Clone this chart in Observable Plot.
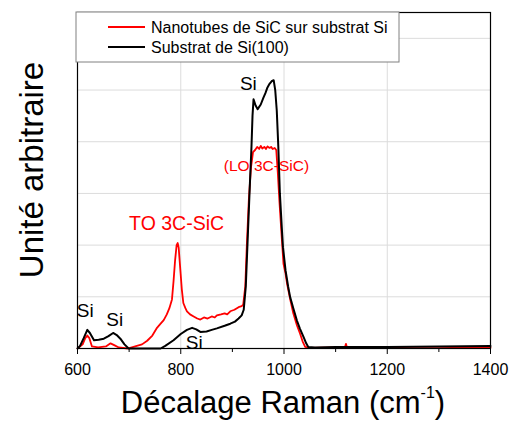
<!DOCTYPE html>
<html><head><meta charset="utf-8">
<script src="https://cdn.jsdelivr.net/npm/d3@7"></script>
<script src="https://cdn.jsdelivr.net/npm/@observablehq/plot@0.6"></script>
<style>body{margin:0;background:#fff} svg{display:block}</style>
</head><body><div id="chart"></div>
<script>
const seriesNames = ["Nanotubes de SiC sur substrat Si", "Substrat de Si(100)"];
const seriesColors = ["#ff0000", "#000000"];

const redX = [600,610,615,619,623,628,640,655,664,672,680,697,715,725,735,745,754,761,767,773,778,783,786,789,792,794,796,799,802,805,809,812,818,825,832,838,845,852,860,866,870,878,885,890,896,904,912,918,921,925,928,932,936,940,944,948,952,955,958,962,965,968,972,975,978,982,985,988,991,996,999,1003,1006,1012,1018,1025,1031,1036,1041,1050,1100,1118,1120,1122,1160,1200,1250,1300,1350,1400];
const redY = [0,0.08,0.2,0.25,0.2,0.04,0.02,0.04,0.1,0.06,0.02,0,0.05,0.08,0.15,0.25,0.4,0.48,0.55,0.66,0.78,0.95,1.3,1.7,2.0,2.04,1.95,1.55,1.15,0.88,0.78,0.72,0.66,0.62,0.58,0.56,0.6,0.58,0.62,0.6,0.64,0.66,0.68,0.66,0.72,0.75,0.8,0.82,0.85,1.2,2.0,2.9,3.5,3.8,3.84,3.9,3.86,3.92,3.87,3.9,3.86,3.91,3.88,3.9,3.86,3.88,3.84,3.4,2.87,2.09,1.64,1.45,1.25,0.95,0.68,0.45,0.29,0.14,0.03,0.01,0.02,0.02,0.09,0.02,0.02,0.02,0.03,0.03,0.02,0.02];

const blackX = [600,605,612,619,624,632,641,651,660,669,676,683,691,699,720,761,770,786,800,812,822,830,838,850,860,870,885,896,905,912,918,922,926,930,934,937,939,941,945,949,955,960,964,968,972,976,980,983,986,989,992,996,998,1003,1008,1012,1018,1025,1031,1038,1043,1047,1060,1100,1200,1300,1400];
const blackY = [0,0.05,0.2,0.36,0.3,0.16,0.17,0.19,0.24,0.3,0.26,0.19,0.08,0,0,0,0.05,0.16,0.28,0.36,0.4,0.37,0.32,0.33,0.36,0.39,0.44,0.48,0.52,0.58,0.64,0.75,1.2,2.2,3.2,3.9,4.5,4.82,4.7,4.63,4.72,4.85,4.94,5.05,5.12,5.17,5.19,5.0,4.6,3.9,3.0,2.29,1.96,1.51,1.2,0.99,0.78,0.54,0.38,0.22,0.1,0.03,0.02,0.03,0.03,0.04,0.05];

const majorTicks = [600,800,1000,1200,1400];
const minorTicks = [700,900,1100,1300];
const xGrid = [800,1000,1200];
const yGrid = [1,2,3,4,5,6];

const annotations = [
  {x: 615, y: 0.72, text: "Si", kind: "si"},
  {x: 672, y: 0.56, text: "Si", kind: "si"},
  {x: 826, y: 0.10, text: "Si", kind: "si"},
  {x: 931, y: 5.12, text: "Si", kind: "si"},
  {x: 792, y: 2.42, text: "TO 3C-SiC", kind: "to"},
  {x: 966, y: 3.53, text: "(LO 3C-SiC)", kind: "lo"}
];

const red = redX.map((x, i) => ({x, y: redY[i]}));
const black = blackX.map((x, i) => ({x, y: blackY[i]}));

const font = "Arial, 'Liberation Sans', sans-serif";

const plot = Plot.plot({
  width: 511, height: 421,
  marginLeft: 77, marginRight: 21, marginTop: 12, marginBottom: 73,
  x: {domain: [600, 1400], axis: null},
  y: {domain: [0, 6.5], axis: null},
  style: {fontFamily: font, background: "white", color: "black"},
  marks: [
    Plot.gridY(yGrid, {stroke: "#dcdcdc", strokeOpacity: 1}),
    Plot.gridX(xGrid, {stroke: "#dcdcdc", strokeOpacity: 1}),
    Plot.text(annotations.filter(d => d.kind === "lo"), {x: "x", y: "y", text: "text", fill: "#ff0000", fontSize: 15.5}),
    Plot.line(red, {x: "x", y: "y", stroke: seriesColors[0], strokeWidth: 1.8}),
    Plot.line(black, {x: "x", y: "y", stroke: seriesColors[1], strokeWidth: 2}),
    Plot.text(annotations.filter(d => d.kind === "si"), {x: "x", y: "y", text: "text", fill: "black", fontSize: 19}),
    Plot.text(annotations.filter(d => d.kind === "to"), {x: "x", y: "y", text: "text", fill: "#ff0000", fontSize: 19.5}),
    Plot.frame({stroke: "black", strokeWidth: 1.2}),
    Plot.axisX({ticks: majorTicks, tickSize: 6, tickPadding: 9, fontSize: 16, tickFormat: d => String(d), label: null}),
    Plot.axisX({ticks: minorTicks, tickSize: 4, tickFormat: () => "", label: null})
  ]
});

const svg = d3.select(plot);
// x axis title
const xt = svg.append("text")
  .attr("x", 283).attr("y", 413)
  .attr("text-anchor", "middle")
  .attr("font-family", font).attr("font-size", 31).attr("fill", "black");
xt.append("tspan").text("Décalage Raman (cm");
xt.append("tspan").attr("font-size", 16).attr("dy", -15).text("-1");
xt.append("tspan").attr("dy", 15).text(")");
// y axis title
svg.append("text")
  .attr("transform", "translate(43,170) rotate(-90)")
  .attr("text-anchor", "middle")
  .attr("font-family", font).attr("font-size", 33).attr("fill", "black")
  .text("Unité arbitraire");
// legend
const lg = svg.append("g");
lg.append("rect").attr("x", 76).attr("y", 12).attr("width", 323).attr("height", 50)
  .attr("fill", "white").attr("stroke", "#808080").attr("stroke-width", 1);
seriesNames.forEach((name, i) => {
  const yy = 27 + i * 20;
  lg.append("line").attr("x1", 108).attr("x2", 145).attr("y1", yy).attr("y2", yy)
    .attr("stroke", seriesColors[i]).attr("stroke-width", 2);
  lg.append("text").attr("x", 151).attr("y", yy).attr("dy", "0.35em")
    .attr("text-anchor", "start")
    .attr("font-family", font).attr("font-size", 16).attr("fill", "black").text(name);
});

document.getElementById("chart").appendChild(plot);
</script>
</body></html>
